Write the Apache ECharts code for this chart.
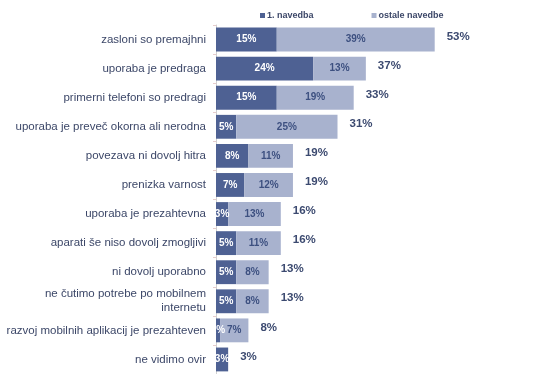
<!DOCTYPE html>
<html><head><meta charset="utf-8">
<script src="https://cdn.jsdelivr.net/npm/echarts@6/dist/echarts.min.js"></script>
<style>html,body{margin:0;padding:0;background:#fff}#c{width:545px;height:374px}</style>
</head><body><div id="c"></div>
<script>
const categories = [
  "zasloni so premajhni",
  "uporaba je predraga",
  "primerni telefoni so predragi",
  "uporaba je preveč okorna ali nerodna",
  "povezava ni dovolj hitra",
  "prenizka varnost",
  "uporaba je prezahtevna",
  "aparati še niso dovolj zmogljivi",
  "ni dovolj uporabno",
  "ne čutimo potrebe po mobilnem\ninternetu",
  "razvoj mobilnih aplikacij je prezahteven",
  "ne vidimo ovir"
];
const firstMention = [15, 24, 15, 5, 8, 7, 3, 5, 5, 5, 1, 3];
const otherMentions = [39, 13, 19, 25, 11, 12, 13, 11, 8, 8, 7, 0];
const totals = [53, 37, 33, 31, 19, 19, 16, 16, 13, 13, 8, 3];

const chart = echarts.init(document.getElementById('c'), null, {renderer: 'canvas'});
const textColor = '#3c4768';
chart.setOption({
  animation: false,
  textStyle: {fontFamily: 'Liberation Sans, Arial, sans-serif'},
  legend: {
    top: 6, left: 255, itemGap: 58, itemWidth: 5, itemHeight: 5,
    icon: 'rect',
    textStyle: {fontSize: 9, fontWeight: 'bold', color: textColor, padding: [0,0,0,-3]},
    data: ['1. navedba', 'ostale navedbe']
  },
  grid: {left: 216, right: 5, top: 25, height: 353, containLabel: false},
  xAxis: {type: 'value', min: 0, max: 80, show: false},
  yAxis: {
    type: 'category', data: categories, inverse: true,
    axisLine: {lineStyle: {color: '#d0d0d0'}},
    axisTick: {show: true, length: 3, lineStyle: {color: '#e6cccc'}},
    axisLabel: {fontSize: 11.5, color: textColor, margin: 10, lineHeight: 14}
  },
  series: [
    {
      name: '1. navedba', type: 'bar', stack: 't', data: firstMention,
      barCategoryGap: '18%',
      itemStyle: {color: '#4e6193'},
      label: {show: true, position: 'inside', formatter: p => p.value + '%',
        color: '#ffffff', fontSize: 10, fontWeight: 'bold'}
    },
    {
      name: 'ostale navedbe', type: 'bar', stack: 't', data: otherMentions,
      itemStyle: {color: '#a8b2ce'},
      label: {show: true, position: 'inside',
        formatter: p => p.value > 0 ? p.value + '%' : '',
        color: '#3d5080', fontSize: 10, fontWeight: 'bold'}
    },
    {
      name: 'total', type: 'bar', stack: 't', data: totals.map(() => 0),
      itemStyle: {color: 'transparent'},
      label: {show: true, position: 'right', distance: 12, offset: [0, -3],
        formatter: p => totals[p.dataIndex] + '%',
        color: '#3c4a70', fontSize: 11.5, fontWeight: 'bold'}
    }
  ]
});
</script></body></html>
